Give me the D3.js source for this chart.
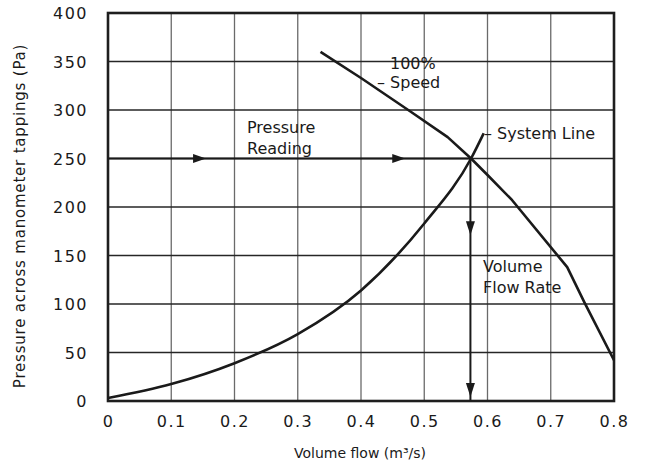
<!DOCTYPE html>
<html>
<head>
<meta charset="utf-8">
<script src="https://cdn.jsdelivr.net/npm/d3@7"></script>
<style>
  body { margin: 0; background: #fff; }
  text { font-family: "DejaVu Sans", sans-serif; fill: #1a1a1a; }
</style>
</head>
<body>
<script>
// values
const xTicks = [0, 0.1, 0.2, 0.3, 0.4, 0.5, 0.6, 0.7, 0.8];
const yTicks = [0, 50, 100, 150, 200, 250, 300, 350, 400];
const xTickLabels = ["0", "0.1", "0.2", "0.3", "0.4", "0.5", "0.6", "0.7", "0.8"];

// fan curve at 100% speed
const fanFlow     = [0.336, 0.40, 0.477, 0.537, 0.574, 0.60, 0.639, 0.726, 0.753, 0.80];
const fanPressure = [360,   333,  299,   272,   250,   233,  207,   138,   102,   42];

// system resistance line
const sysFlow     = [0, 0.1,  0.2, 0.3, 0.4, 0.5, 0.574, 0.594];
const sysPressure = [3, 17.5, 39,  69,  114, 183, 250,   276];

// operating point and arrow marks
const opFlow = 0.573, opPressure = 250;
const hArrowAt = [0.155, 0.47];   // flow values of the right-pointing arrowheads
const vArrowAt = [171, 4];        // pressure values of the down-pointing arrowheads

const W = 645, H = 466;
const margin = {top: 13, right: 31, bottom: 65, left: 108},
    width  = W - margin.left - margin.right,
    height = H - margin.top - margin.bottom;

const svg = d3.select("body").append("svg")
    .attr("width", W)
    .attr("height", H);

const g = svg.append("g")
    .attr("transform", `translate(${margin.left},${margin.top})`);

const x = d3.scaleLinear().domain([0, 0.8]).range([0, width]);
const y = d3.scaleLinear().domain([0, 400]).range([height, 0]);

// grid
g.append("g")
    .selectAll("line")
    .data(xTicks.slice(1, -1))
    .enter().append("line")
    .attr("x1", d => x(d)).attr("x2", d => x(d))
    .attr("y1", 0).attr("y2", height)
    .attr("stroke", "#6a6a6a").attr("stroke-width", 1.3);

g.append("g")
    .selectAll("line")
    .data(yTicks.slice(1, -1))
    .enter().append("line")
    .attr("x1", 0).attr("x2", width)
    .attr("y1", d => y(d)).attr("y2", d => y(d))
    .attr("stroke", "#262626").attr("stroke-width", 1.3);

// axes (labels only, border drawn separately)
const xAxis = d3.axisBottom(x).tickValues(xTicks).tickSize(0)
    .tickFormat((d, i) => xTickLabels[i]);
const gx = g.append("g")
    .attr("transform", `translate(0,${height})`)
    .call(xAxis);
gx.select(".domain").remove();
gx.selectAll("text")
    .attr("dy", 0)
    .attr("y", 26)
    .style("font-size", "16px")
    .style("letter-spacing", "1.5px")
    .style("font-family", "DejaVu Sans, sans-serif")
    .attr("fill", "#1a1a1a");

const yAxis = d3.axisLeft(y).tickValues(yTicks).tickSize(0);
const gy = g.append("g").call(yAxis);
gy.select(".domain").remove();
gy.selectAll("text")
    .attr("x", -20)
    .attr("dy", "0.36em")
    .style("font-size", "16px")
    .style("letter-spacing", "1.5px")
    .style("font-family", "DejaVu Sans, sans-serif")
    .attr("fill", "#1a1a1a");

// frame
g.append("rect")
    .attr("x", 0).attr("y", 0)
    .attr("width", width).attr("height", height)
    .attr("fill", "none")
    .attr("stroke", "#1e1e1e")
    .attr("stroke-width", 2.6);

// curves
const line = d3.line().x(d => x(d[0])).y(d => y(d[1]));

g.append("path")
    .datum(fanFlow.map((f, i) => [f, fanPressure[i]]))
    .attr("d", line.curve(d3.curveLinear))
    .attr("fill", "none").attr("stroke", "#1a1a1a").attr("stroke-width", 2.6)
    .attr("stroke-linejoin", "round");

g.append("path")
    .datum(sysFlow.map((f, i) => [f, sysPressure[i]]))
    .attr("d", line.curve(d3.curveMonotoneX))
    .attr("fill", "none").attr("stroke", "#1a1a1a").attr("stroke-width", 2.6);

// pressure reading (horizontal) and volume flow rate (vertical) lines
g.append("line")
    .attr("x1", x(0)).attr("x2", x(opFlow))
    .attr("y1", y(opPressure)).attr("y2", y(opPressure))
    .attr("stroke", "#1a1a1a").attr("stroke-width", 2);

g.append("line")
    .attr("x1", x(opFlow)).attr("x2", x(opFlow))
    .attr("y1", y(opPressure)).attr("y2", y(0))
    .attr("stroke", "#1a1a1a").attr("stroke-width", 2);

g.selectAll(".harrow")
    .data(hArrowAt)
    .enter().append("path")
    .attr("class", "harrow")
    .attr("transform", d => `translate(${x(d)},${y(opPressure)})`)
    .attr("d", "M0,0 L-13,-4.5 L-13,4.5 Z")
    .attr("fill", "#1a1a1a");

g.selectAll(".varrow")
    .data(vArrowAt)
    .enter().append("path")
    .attr("class", "varrow")
    .attr("transform", d => `translate(${x(opFlow)},${y(d)})`)
    .attr("d", "M0,0 L-4.5,-14 L4.5,-14 Z")
    .attr("fill", "#1a1a1a");

// annotations
function label(px, py, lines, anchor) {
    const t = svg.append("text")
        .attr("x", px).attr("y", py)
        .attr("text-anchor", anchor || "start")
        .style("font-size", "16px");
    lines.forEach((s, i) => {
        t.append("tspan").attr("x", px).attr("dy", i ? 20.5 : 0).text(s);
    });
}

label(247, 133, ["Pressure", "Reading"]);
label(390, 69, ["100%"]);
label(377, 88, ["\u2013 Speed"]);
label(484, 139, ["\u2013 System Line"]);
label(483, 272, ["Volume", "Flow Rate"]);

// axis titles
svg.append("text")
    .attr("transform", "translate(25,216) rotate(-90)")
    .attr("text-anchor", "middle")
    .style("font-size", "15px")
    .style("letter-spacing", "0.8px")
    .text("Pressure across manometer tappings (Pa)");

svg.append("text")
    .attr("x", 360).attr("y", 458)
    .attr("text-anchor", "middle")
    .style("font-size", "14px")
    .text("Volume flow (m\u00B3/s)");
</script>
</body>
</html>
